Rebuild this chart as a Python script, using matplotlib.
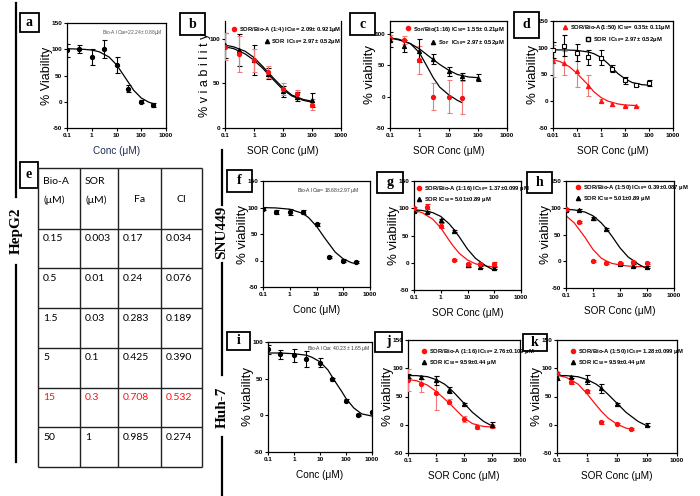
import matplotlib.pyplot as plt
from matplotlib.patches import Rectangle
from matplotlib.legend import Legend
from matplotlib.ticker import NullLocator

# decade ticks used on every log axis
dec_ticks = [0.01, 0.1, 1, 10, 100, 1000]
dec_labels = ['0.01', '0.1', '1', '10', '100', '1000']

# a: Bio-A alone (HepG2)
a_x = [0.1, 0.3, 1, 3, 10, 30, 100, 300]
a_y = [98, 101, 85, 101, 70, 25, 0, -6]
a_err = [12, 8, 15, 17, 15, 6, 3, 4]
a_fx = [0.1, 0.2, 0.5, 1, 2, 5, 10, 20, 50, 100, 200, 300]
a_fy = [101, 100.6, 99.8, 98.4, 95.2, 85.2, 70.5, 49.6, 21.6, 7.2, -0.8, -3.5]

# b: SOR/Bio-A 1:4 vs SOR (HepG2)
b_x = [0.1, 0.3, 1, 3, 10, 30, 100]
b_combo_y = [91, 83, 76, 63, 44, 38, 26]
b_combo_err = [15, 20, 13, 7, 7, 5, 6]
b_sor_y = [93, 87, 76, 61, 41, 35, 31]
b_sor_err = [14, 18, 17, 6, 6, 5, 8]
b_fx = [0.1, 0.2, 0.5, 1, 2, 5, 10, 20, 50, 100]
b_combo_fy = [91, 89, 83, 76, 67, 53, 43, 36, 31, 29]
b_sor_fy = [93, 91, 86, 79, 69, 55, 45, 37, 32, 30]

# c: Sor/Bio 1:16 vs Sor (HepG2)
c_combo_x = [0.1, 0.3, 1, 3, 10, 30]
c_combo_y = [93, 90, 58, 0, 0, -2]
c_combo_err = [5, 6, 22, 22, 26, 26]
c_sor_x = [0.1, 0.3, 1, 3, 10, 30, 100]
c_sor_y = [90, 80, 73, 60, 40, 32, 30]
c_sor_err = [12, 10, 18, 8, 7, 5, 5]
c_combo_fx = [0.1, 0.2, 0.5, 1, 2, 3, 5, 10, 20, 30]
c_combo_fy = [93, 91, 84, 70, 45, 30, 15, 3, -6, -10]
c_sor_fx = [0.1, 0.2, 0.5, 1, 2, 5, 10, 20, 50, 100]
c_sor_fy = [93, 90, 84, 76, 65, 51, 42, 35, 31, 30]

# d: SOR/Bio-A 1:50 vs SOR (HepG2)
d_combo_x = [0.01, 0.03, 0.1, 0.3, 1, 3, 10, 30]
d_combo_y = [75, 71, 56, 29, 1, -6, -9, -9]
d_combo_err = [30, 22, 30, 20, 3, 2, 1, 1]
d_sor_x = [0.01, 0.03, 0.1, 0.3, 1, 3, 10, 30, 100]
d_sor_y = [95, 104, 91, 82, 81, 61, 39, 31, 34]
d_sor_err = [15, 20, 16, 14, 14, 7, 6, 3, 6]
d_combo_fx = [0.01, 0.02, 0.05, 0.1, 0.2, 0.3, 0.5, 1, 2, 5, 10, 30]
d_combo_fy = [78, 74, 64, 52, 38, 30, 18, 7, 0, -5, -7, -8]
d_sor_fx = [0.01, 0.03, 0.1, 0.3, 0.5, 1, 2, 3, 5, 10, 20, 50, 100]
d_sor_fy = [96, 96, 95, 92, 89, 82, 70, 62, 52, 42, 35, 31, 30]

# e: combination index table
tbl_bio = ['0.15', '0.5', '1.5', '5', '15', '50']
tbl_sor = ['0.003', '0.01', '0.03', '0.1', '0.3', '1']
tbl_fa = ['0.17', '0.24', '0.283', '0.425', '0.708', '0.985']
tbl_ci = ['0.034', '0.076', '0.189', '0.390', '0.532', '0.274']
tbl_red_row = 4

# f: Bio-A alone (SNU449)
f_x = [0.1, 0.3, 1, 3, 10, 30, 100, 300]
f_y = [98, 92, 91, 92, 68, 6, 0, -2]
f_err = [3, 4, 6, 4, 2, 2, 2, 2]
f_fx = [0.1, 0.3, 1, 3, 5, 10, 20, 50, 100, 200, 300]
f_fy = [99.8, 99.2, 96.8, 89, 81.2, 64.7, 42.8, 15.8, 3, -4, -6.2]

# g, h: SNU449 combinations (SOR curve shared)
gh_x = [0.1, 0.3, 1, 3, 10, 30, 100]
gh_fx = [0.1, 0.2, 0.5, 1, 2, 3, 5, 10, 20, 50, 100]
g_combo_y = [100, 103, 68, 5, -3, -2, -2]
g_combo_err = [2, 5, 5, 2, 3, 2, 4]
g_sor_y = [95, 93, 78, 58, -5, -8, -10]
g_sor_err = [2, 2, 3, 2, 2, 2, 2]
g_combo_fy = [96, 92, 80, 64, 42, 30, 17, 5, -2, -6, -8]
h_combo_y = [98, 73, 0, -3, -4, -2, -3]
h_combo_err = [2, 2, 2, 2, 2, 2, 2]
h_sor_y = [96, 96, 80, 60, -5, -8, -11]
h_sor_err = [2, 2, 2, 2, 2, 2, 2]
h_combo_fy = [85, 72, 45, 22, 6, 1, -4, -7, -9, -10, -10]
snu_sor_fy = [97, 96, 92, 85, 72, 62, 47, 25, 8, -6, -14]

# i: Bio-A alone (Huh-7)
i_x = [0.1, 0.3, 1, 3, 10, 30, 100, 300, 1000]
i_y = [90, 83, 82, 77, 72, 49, 20, 0, 4]
i_err = [6, 6, 9, 11, 6, 2, 2, 1, 2]
i_fx = [0.1, 0.3, 1, 3, 5, 10, 20, 40, 70, 100, 200, 400, 1000]
i_fy = [85, 85, 84, 82, 79, 73, 62, 45, 32, 23, 10, 2, -1]

# j, k: Huh-7 combinations (SOR curve shared)
jk_fx = [0.1, 0.2, 0.5, 1, 2, 3, 5, 10, 20, 50, 100]
huh_sor_fy = [87, 87, 85, 80, 72, 65, 54, 38, 22, 6, -2]
j_combo_x = [0.1, 0.3, 1, 3, 10, 30, 100]
j_combo_y = [79, 72, 56, 41, 10, -4, -3]
j_combo_err = [20, 14, 30, 5, 5, 3, 2]
j_sor_x = [0.1, 0.3, 1, 3, 10, 100]
j_sor_y = [86, 84, 79, 62, 37, 0]
j_sor_err = [3, 3, 8, 5, 2, 4]
j_combo_fy = [80, 78, 70, 59, 46, 38, 27, 12, 2, -3, -4]
k_combo_x = [0.1, 0.3, 1, 3, 10, 30]
k_combo_y = [91, 75, 59, 4, 1, -8]
k_combo_err = [3, 2, 2, 2, 2, 2]
k_sor_x = [0.1, 0.3, 1, 3, 10, 100]
k_sor_y = [85, 84, 80, 65, 37, 0]
k_sor_err = [5, 2, 8, 8, 2, 3]
k_combo_fx = [0.1, 0.2, 0.5, 1, 2, 3, 5, 10, 20, 30]
k_combo_fy = [88, 84, 72, 55, 35, 24, 12, 1, -6, -8]

RED = '#ff1010'
PINK = '#f07a7a'

plt.rcParams['font.family'] = ['Liberation Sans', 'DejaVu Sans']
plt.rcParams['font.weight'] = 'bold'
plt.rcParams['mathtext.fontset'] = 'custom'
plt.rcParams['mathtext.rm'] = 'Liberation Sans:bold'
plt.rcParams['mathtext.default'] = 'rm'

W, H = 700, 496
fig = plt.figure(figsize=(7, 4.96), dpi=100)


def px_axes(l, t, r, b):
    return fig.add_axes([l / W, 1 - b / H, (r - l) / W, (b - t) / H])


def panel(box, xmin, ylim, yticks, xlabel, ylabel, ysize=9.5, top=True):
    ax = px_axes(*box)
    ax.set_xscale('log')
    ax.set_xlim(xmin, 1000)
    ax.set_ylim(*ylim)
    ticks = [t for t in dec_ticks if t >= xmin * 0.999]
    ax.set_xticks(ticks, [dec_labels[dec_ticks.index(t)] for t in ticks])
    ax.xaxis.set_minor_locator(NullLocator())
    ax.set_yticks(yticks, [str(v) for v in yticks])
    ax.tick_params(labelsize=4.6, length=2, width=0.8, pad=1.5)
    for s in ax.spines.values():
        s.set_linewidth(0.9)
    if not top:
        ax.spines['top'].set_visible(False)
    ax.set_xlabel(xlabel, fontsize=7.2, labelpad=6)
    ax.set_ylabel(ylabel, fontsize=ysize, labelpad=-1)
    return ax


def series(ax, x, y, err, marker, color, ecolor, mfc=None):
    ax.errorbar(x, y, yerr=err, fmt=marker, color=color, ecolor=ecolor, ms=3,
                mfc=mfc, mew=0.8, elinewidth=0.8, capsize=1.8, capthick=0.8, zorder=3)


def legend_row(ax, label, marker, color, x, y, loc, mfc=None):
    h, = ax.plot([], [], ls='none', marker=marker, color=color, ms=3, mfc=mfc)
    leg = Legend(ax, [h], [label], loc=loc, bbox_to_anchor=(x, y), fontsize=4.2,
                 frameon=False, handlelength=0.9, handletextpad=0.4,
                 borderpad=0, borderaxespad=0)
    ax.add_artist(leg)


# overlay for separators, row names and panel letters (pixel coordinates)
ov = fig.add_axes([0, 0, 1, 1])
ov.set_xlim(0, W)
ov.set_ylim(H, 0)
ov.axis('off')
for x, y0, y1 in [(16, 3, 197), (16, 265, 462), (222, 150, 205), (222, 263, 375), (222, 437, 496)]:
    ov.plot([x, x], [y0, y1], color='black', lw=1.6)
for name, x, y in [('HepG2', 16, 231), ('SNU449', 222, 232), ('Huh-7', 222, 407)]:
    ov.text(x, y, name, rotation=90, ha='center', va='center', fontsize=11,
            family='Liberation Serif', weight='bold')
letter_boxes = [('a', 20, 13, 39, 32), ('b', 180, 13, 205, 35), ('c', 350, 13, 375, 35),
                ('d', 514, 12, 539, 38), ('e', 20, 162, 38, 188), ('f', 227, 170, 252, 192),
                ('g', 377, 172, 403, 193), ('h', 527, 172, 552, 193), ('i', 227, 332, 250, 350),
                ('j', 375, 332, 402, 352), ('k', 523, 334, 547, 351)]
for lt, l, t, r, b in letter_boxes:
    ov.add_patch(Rectangle((l, t), r - l, b - t, fill=False, lw=1.3, ec='black'))
    ov.text((l + r) / 2, (t + b) / 2, lt, ha='center', va='center', fontsize=10,
            family='Liberation Serif', weight='bold')

# a
ax = panel((67, 23, 166, 128), 0.1, (-50, 150), [-50, 0, 50, 100, 150], 'Conc (μM)', '% Viability', ysize=9)
ax.xaxis.label.set_color('#1c2c55')
ax.plot(a_fx, a_fy, color='black', lw=0.9)
series(ax, a_x, a_y, a_err, 'o', 'black', 'black')
ax.text(0.97, 0.905, 'Bio-A IC$_{50}$=22.24± 0.88μM', transform=ax.transAxes,
        ha='right', va='center', fontsize=3.6, color='#555555', weight='normal')

# b
ax = panel((225, 21, 341, 128), 0.1, (0, 120), [0, 50, 100], 'SOR Conc (μM)', '% v i a b i l i t y', ysize=9, top=False)
ax.plot(b_fx, b_combo_fy, color='black', lw=0.9)
ax.plot(b_fx, b_sor_fy, color='black', lw=0.9)
series(ax, b_x, b_sor_y, b_sor_err, '^', 'black', 'black')
series(ax, b_x, b_combo_y, b_combo_err, 'o', RED, PINK)
legend_row(ax, 'SOR/Bio-A (1:4) IC$_{50}$= 2.09± 0.921μM', 'o', RED, 1.0, 0.916, 'center right')
legend_row(ax, 'SOR  IC$_{50}$= 2.97± 0.52μM', '^', 'black', 1.0, 0.804, 'center right')

# c
ax = panel((390, 21, 507, 128), 0.1, (-50, 120), [-50, 0, 50, 100], 'SOR Conc (μM)', '% viability')
ax.plot(c_combo_fx, c_combo_fy, color='black', lw=0.9)
ax.plot(c_sor_fx, c_sor_fy, color='black', lw=0.9)
series(ax, c_combo_x, c_combo_y, c_combo_err, 'o', RED, PINK)
series(ax, c_sor_x, c_sor_y, c_sor_err, '^', 'black', 'black')
legend_row(ax, 'Sor/Bio(1:16) IC$_{50}$= 1.55± 0.21μM', 'o', RED, 0.98, 0.925, 'center right')
legend_row(ax, 'Sor  IC$_{50}$= 2.97± 0.52μM', '^', 'black', 0.98, 0.80, 'center right')

# d
ax = panel((553, 21, 673, 128), 0.01, (-50, 150), [-50, 0, 50, 100, 150], 'SOR Conc (μM)', '% viability')
ax.plot(d_combo_fx, d_combo_fy, color=RED, lw=0.9)
ax.plot(d_sor_fx, d_sor_fy, color='black', lw=0.9)
series(ax, d_combo_x, d_combo_y, d_combo_err, '^', RED, PINK)
series(ax, d_sor_x, d_sor_y, d_sor_err, 's', 'black', 'black', mfc='white')
legend_row(ax, 'SOR/Bio-A(1:50) IC$_{50}$= 0.35± 0.11μM', '^', RED, 0.98, 0.935, 'center right')
legend_row(ax, 'SOR  IC$_{50}$= 2.97± 0.52μM', 's', 'black', 0.91, 0.83, 'center right', mfc='white')

# e: table
tab = px_axes(38, 168, 202, 467)
col_edges = [0, 42, 80, 123, 164]
row_edges = [0, 1.53, 2.53, 3.53, 4.53, 5.53, 6.53, 7.53]
tab.set_xlim(0, 164)
tab.set_ylim(7.53, 0)
tab.axis('off')
tab.vlines(col_edges, 0, 7.53, color='#222222', lw=1, clip_on=False)
tab.hlines(row_edges, 0, 164, color='#222222', lw=1, clip_on=False)
tfont = dict(family='Lato', weight='normal', fontsize=7.5, va='center')
tab.text(col_edges[0] + 5, 0.33, 'Bio-A', **tfont)
tab.text(col_edges[0] + 5, 0.8, '(μM)', **tfont)
tab.text(col_edges[1] + 5, 0.33, 'SOR', **tfont)
tab.text(col_edges[1] + 5, 0.8, '(μM)', **tfont)
tab.text((col_edges[2] + col_edges[3]) / 2, 0.8, 'Fa', ha='center', **tfont)
tab.text((col_edges[3] + col_edges[4]) / 2, 0.8, 'CI', ha='center', **tfont)
for i, row in enumerate(zip(tbl_bio, tbl_sor, tbl_fa, tbl_ci)):
    color = RED if i == tbl_red_row else 'black'
    for j, val in enumerate(row):
        tab.text(col_edges[j] + 5, row_edges[i + 1] + 0.25, val, color=color, **tfont)

# f
ax = panel((263, 181, 370, 287), 0.1, (-50, 150), [-50, 0, 50, 100, 150], 'Conc (μM)', '% viability')
ax.plot(f_fx, f_fy, color='black', lw=0.9)
series(ax, f_x, f_y, f_err, 'o', 'black', 'black')
ax.text(0.90, 0.906, 'Bio-A IC$_{50}$= 18.68±2.97 μM', transform=ax.transAxes,
        ha='right', va='center', fontsize=3.6, color='#333333', weight='normal')

# g
ax = panel((414, 181, 521, 290), 0.1, (-50, 150), [-50, 0, 50, 100, 150], 'SOR Conc (μM)', '% viability')
ax.plot(gh_fx, g_combo_fy, color=RED, lw=0.9)
ax.plot(gh_fx, snu_sor_fy, color='black', lw=0.9)
series(ax, gh_x, g_sor_y, g_sor_err, '^', 'black', 'black')
series(ax, gh_x, g_combo_y, g_combo_err, 'o', RED, RED)
legend_row(ax, 'SOR/Bio-A (1:16) IC$_{50}$= 1.37±0.099 μM', 'o', RED, 0.02, 0.927, 'center left')
legend_row(ax, 'SOR IC$_{50}$= 5.01±0.89 μM', '^', 'black', 0.02, 0.826, 'center left')

# h
ax = panel((566, 181, 674, 288), 0.1, (-50, 150), [-50, 0, 50, 100, 150], 'SOR Conc (μM)', '% viability')
ax.plot(gh_fx, h_combo_fy, color=RED, lw=0.9)
ax.plot(gh_fx, snu_sor_fy, color='black', lw=0.9)
series(ax, gh_x, h_sor_y, h_sor_err, '^', 'black', 'black')
series(ax, gh_x, h_combo_y, h_combo_err, 'o', RED, RED)
legend_row(ax, 'SOR/Bio-A (1:50) IC$_{50}$= 0.39±0.087 μM', 'o', RED, 0.09, 0.935, 'center left')
legend_row(ax, 'SOR IC$_{50}$= 5.01±0.89 μM', '^', 'black', 0.09, 0.84, 'center left')

# i
ax = panel((268, 342, 372, 452), 0.1, (-50, 100), [-50, 0, 50, 100], 'Conc (μM)', '% viability')
ax.plot(i_fx, i_fy, color='black', lw=0.9)
series(ax, i_x, i_y, i_err, 'o', 'black', 'black')
ax.text(0.98, 0.945, 'Bio-A IC$_{50}$: 40.23 ± 1.65 μM', transform=ax.transAxes,
        ha='right', va='center', fontsize=3.6, color='#333333', weight='normal')

# j
ax = panel((408, 340, 520, 453), 0.1, (-50, 150), [-50, 0, 50, 100, 150], 'SOR Conc (μM)', '% viability')
ax.plot(jk_fx, j_combo_fy, color=RED, lw=0.9)
ax.plot(jk_fx, huh_sor_fy, color='black', lw=0.9)
series(ax, j_combo_x, j_combo_y, j_combo_err, 'o', RED, PINK)
series(ax, j_sor_x, j_sor_y, j_sor_err, '^', 'black', 'black')
legend_row(ax, 'SOR/Bio-A (1:16) IC$_{50}$= 2.76±0.109 μM', 'o', RED, 0.12, 0.90, 'center left')
legend_row(ax, 'SOR IC$_{50}$= 9.59±0.44 μM', '^', 'black', 0.12, 0.80, 'center left')

# k
ax = panel((557, 340, 677, 453), 0.1, (-50, 150), [-50, 0, 50, 100, 150], 'SOR Conc (μM)', '% viability')
ax.plot(k_combo_fx, k_combo_fy, color=RED, lw=0.9)
ax.plot(jk_fx, huh_sor_fy, color='black', lw=0.9)
series(ax, k_sor_x, k_sor_y, k_sor_err, '^', 'black', 'black')
series(ax, k_combo_x, k_combo_y, k_combo_err, 'o', RED, RED)
legend_row(ax, 'SOR/Bio-A (1:50) IC$_{50}$= 1.28±0.099 μM', 'o', RED, 0.11, 0.90, 'center left')
legend_row(ax, 'SOR IC$_{50}$= 9.59±0.44 μM', '^', 'black', 0.11, 0.80, 'center left')

fig.savefig('out.png', dpi=100)
